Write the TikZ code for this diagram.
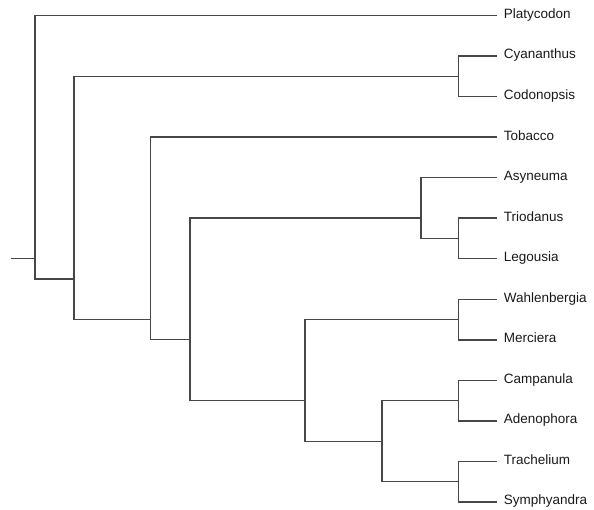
\documentclass[tikz,border=0pt]{standalone}
\usepackage{fontspec}
\setmainfont{Liberation Sans}
\begin{document}
\begin{tikzpicture}[x=1pt,y=-1pt,
  branch/.style={draw=black!72,line width=1.4pt,line cap=rect},
  leaf/.style={anchor=base west,inner sep=0pt,xshift=7pt,yshift=-2.9pt,font=\fontsize{13.5}{15}\selectfont,text=black!90}]
\useasboundingbox (0,0) rectangle (594,510);
% leaf tips
\foreach \n/\i in {Platycodon/0,Cyananthus/1,Codonopsis/2,Tobacco/3,Asyneuma/4,Triodanus/5,Legousia/6,Wahlenbergia/7,Merciera/8,Campanula/9,Adenophora/10,Trachelium/11,Symphyandra/12}{
  \coordinate (t\n) at (496.7,{15.5+40.54*\i});
  \node[leaf] (l\n) at (t\n) {\n};
}
% internal nodes
\coordinate (stub) at (11,258.7);
\coordinate (n0) at (35,258.7);
\coordinate (n1) at (74,279.0);
\coordinate (n11) at (458.7,76.3);
\coordinate (n2) at (150.5,319.6);
\coordinate (n3) at (190,339.8);
\coordinate (n4) at (421,218.2);
\coordinate (n5) at (458.7,238.5);
\coordinate (n6) at (305,400.6);
\coordinate (n7) at (458.7,319.6);
\coordinate (n8) at (382,441.2);
\coordinate (n9) at (458.7,400.6);
\coordinate (n10) at (458.7,481.7);
% branches
\draw[branch,line cap=butt] (stub) -- (n0);
\draw[branch] (tPlatycodon) -| (n0) |- (n1);
\draw[branch] (n11) -| (n1) |- (n2);
\draw[branch] (tCyananthus) -| (n11) |- (tCodonopsis);
\draw[branch] (tTobacco) -| (n2) |- (n3);
\draw[branch] (n4) -| (n3) |- (n6);
\draw[branch] (tAsyneuma) -| (n4) |- (n5);
\draw[branch] (tTriodanus) -| (n5) |- (tLegousia);
\draw[branch] (n7) -| (n6) |- (n8);
\draw[branch] (tWahlenbergia) -| (n7) |- (tMerciera);
\draw[branch] (n9) -| (n8) |- (n10);
\draw[branch] (tCampanula) -| (n9) |- (tAdenophora);
\draw[branch] (tTrachelium) -| (n10) |- (tSymphyandra);
\end{tikzpicture}
\end{document}
